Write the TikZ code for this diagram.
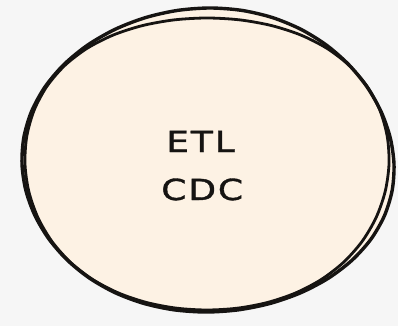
\documentclass[tikz,border=0pt]{standalone}
\usepackage{fontspec}
\newfontfamily\hand[LetterSpace=6,FakeStretch=1.25,FakeBold=1.2]{DejaVu Sans}
\definecolor{bgc}{RGB}{246,246,246}
\definecolor{peach}{RGB}{253,242,228}
\definecolor{ink}{RGB}{22,20,18}
\tikzset{
  sketch/.style={draw=ink, line width=3.4pt, line join=round},
  lbl/.style={font=\hand\fontsize{29}{34}\selectfont, text=ink, inner sep=0pt, anchor=base west}
}
\begin{document}
\begin{tikzpicture}[x=1pt,y=-1pt]
\fill[bgc] (0,0) rectangle (398,326);
\useasboundingbox (0,0) rectangle (398,326);
% fill
\fill[peach] plot[smooth cycle, domain=0:350, samples=36, variable=\t]
  ({208+186*cos(\t)+2*sin(3*\t)}, {162+152*sin(\t)+2*cos(2*\t)});
% stroke 1
\draw[sketch] plot[smooth cycle, domain=0:350, samples=36, variable=\t]
  ({208+186*cos(\t)+2*sin(3*\t)}, {162+152*sin(\t)+2*cos(2*\t)});
% stroke 2
\draw[sketch, line width=2.8pt] plot[smooth cycle, domain=0:350, samples=36, variable=\t]
  ({207+182*cos(\t)-3*sin(2*\t)}, {164+149*sin(\t)+3*sin(3*\t)});
\node[lbl] (etl) at (166,152) {ETL};
\node[lbl] (cdc) at (161,200) {CDC};
\end{tikzpicture}
\end{document}
